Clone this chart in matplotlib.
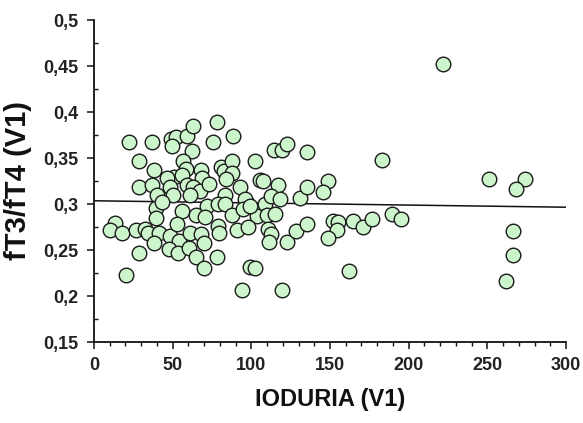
import matplotlib
matplotlib.use("Agg")
import matplotlib.pyplot as plt
from matplotlib.ticker import MultipleLocator, FuncFormatter

ioduria = [22.4, 36.7, 48.8, 51.9, 49.4, 59.3, 63.1, 78.4, 88.5, 75.8,
           62.1, 28.8, 38.1, 56.8, 58.5, 67.8, 50.8, 46.6, 55.7, 68.6,
           80.5, 82.6, 87.7, 87.5, 83.9, 102.1, 105.5, 107.2, 117.0, 114.6,
           119.5, 122.5, 135.2, 28.8, 36.9, 40.2, 48.3, 50.4, 59.3, 62.7,
           67.4, 73.3, 61.0, 83.5, 92.8, 97.1, 96.2, 108.5, 112.5, 118.2,
           130.9, 135.2, 39.4, 39.4, 43.0, 55.7, 64.8, 72.0, 70.7, 79.0,
           83.3, 87.5, 94.5, 103.8, 109.8, 115.0, 99.2, 13.2, 10.2, 17.6,
           26.7, 32.4, 34.5, 41.5, 48.3, 52.6, 54.2, 61.0, 67.8, 69.9,
           78.6, 79.6, 90.7, 97.7, 110.8, 112.3, 111.4, 122.9, 128.4, 135.2,
           38.1, 47.9, 53.2, 60.6, 64.8, 78.4, 69.9, 28.8, 20.3, 99.2,
           102.3, 93.9, 119.5,
           222.0, 182.9, 148.9, 145.4, 152.1, 155.3, 154.3, 148.9, 164.4, 170.8,
           176.9, 189.2, 194.9, 162.3, 251.3, 273.9, 268.2, 266.1, 266.1, 261.9]

ft3_ft4 = [0.367, 0.367, 0.371, 0.373, 0.363, 0.374, 0.385, 0.389, 0.374, 0.367,
           0.358, 0.347, 0.337, 0.347, 0.338, 0.337, 0.329, 0.328, 0.331, 0.328,
           0.340, 0.336, 0.347, 0.334, 0.327, 0.347, 0.326, 0.325, 0.321, 0.359,
           0.359, 0.365, 0.356, 0.318, 0.321, 0.310, 0.318, 0.310, 0.321, 0.319,
           0.314, 0.322, 0.310, 0.310, 0.318, 0.301, 0.305, 0.300, 0.309, 0.305,
           0.307, 0.318, 0.296, 0.285, 0.302, 0.292, 0.288, 0.298, 0.286, 0.300,
           0.300, 0.288, 0.295, 0.287, 0.288, 0.289, 0.298, 0.279, 0.272, 0.269,
           0.272, 0.273, 0.268, 0.268, 0.265, 0.278, 0.260, 0.269, 0.267, 0.258,
           0.276, 0.268, 0.272, 0.275, 0.273, 0.267, 0.259, 0.259, 0.271, 0.278,
           0.258, 0.251, 0.247, 0.252, 0.242, 0.242, 0.230, 0.247, 0.223, 0.232,
           0.230, 0.207, 0.206,
           0.452, 0.348, 0.325, 0.313, 0.281, 0.280, 0.272, 0.263, 0.281, 0.275,
           0.284, 0.289, 0.284, 0.227, 0.327, 0.327, 0.316, 0.271, 0.245, 0.216]

fit_x = [0, 300]
fit_y = [0.3035, 0.2965]

x_ticks = [0, 50, 100, 150, 200, 250, 300]
y_ticks = [0.15, 0.2, 0.25, 0.3, 0.35, 0.4, 0.45, 0.5]

plt.rcParams['font.family'] = ['Liberation Sans', 'DejaVu Sans']

fig = plt.figure(figsize=(5.83, 4.23), dpi=100)
ax = fig.add_axes([94/583, 1 - 342/423, 472/583, 322/423])

ax.plot(fit_x, fit_y, color='#111111', lw=1.1, zorder=1)
ax.scatter(ioduria, ft3_ft4, s=110, facecolor='#ccf5cc', edgecolor='#1a1a1a',
           linewidths=1.0, zorder=2)

ax.set_xlim(0, 300)
ax.set_ylim(0.15, 0.5)
ax.spines['top'].set_visible(False)
ax.spines['right'].set_visible(False)
for s in ('left', 'bottom'):
    ax.spines[s].set_linewidth(1.3)
    ax.spines[s].set_color('#111111')
ax.spines['left'].set_bounds(0.15, 0.5)
ax.spines['bottom'].set_bounds(0, 300)

ax.set_xticks(x_ticks)
ax.set_yticks(y_ticks)
ax.xaxis.set_minor_locator(MultipleLocator(10))
ax.yaxis.set_minor_locator(MultipleLocator(0.025))
ax.yaxis.set_major_formatter(FuncFormatter(lambda v, p: ('%g' % v).replace('.', ',')))
ax.xaxis.set_major_formatter(FuncFormatter(lambda v, p: '%d' % v))

ax.tick_params(axis='both', which='major', length=5, width=1.1, color='#111111',
               labelsize=13, pad=6)
ax.tick_params(axis='x', which='minor', length=3, width=1.0, direction='out', color='#111111')
ax.tick_params(axis='y', which='minor', length=3, width=1.0, direction='in', color='#111111')
for lab in ax.get_xticklabels() + ax.get_yticklabels():
    lab.set_fontweight('bold')
    lab.set_color('#222222')

ax.set_xlabel('IODURIA (V1)', fontsize=17, fontweight='bold', color='#111111', labelpad=10)
ax.set_ylabel('fT3/fT4 (V1)', fontsize=21, fontweight='bold', color='#111111', labelpad=8)

fig.savefig('out.png', dpi=100)
